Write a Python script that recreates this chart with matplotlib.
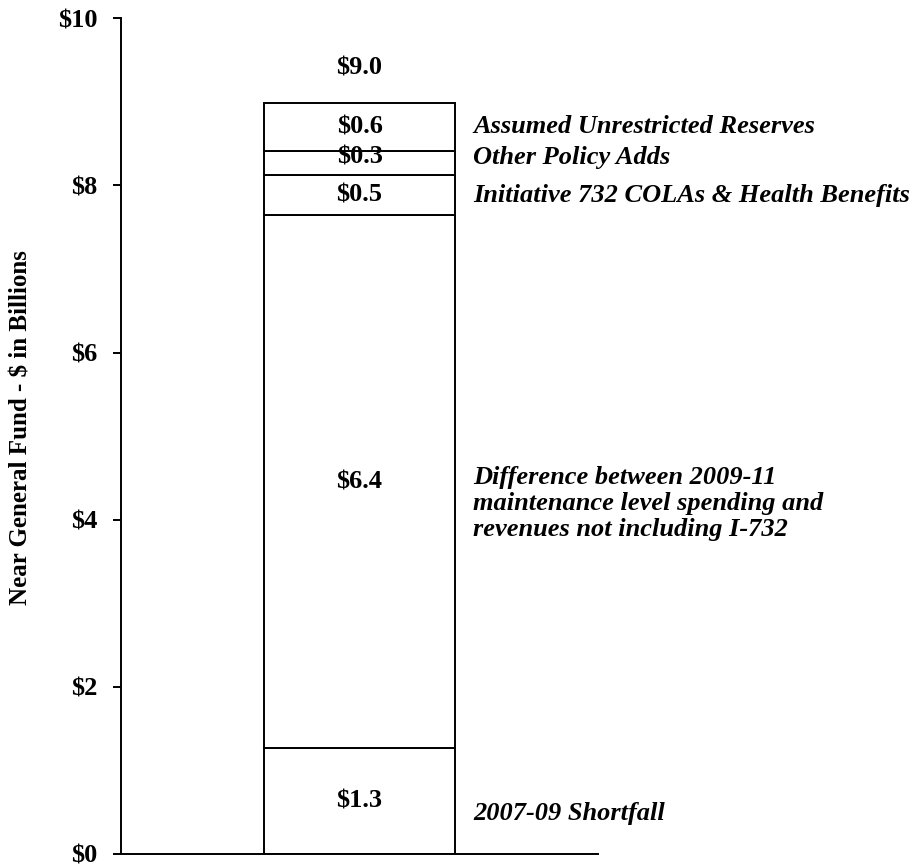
import matplotlib
matplotlib.use('Agg')
import matplotlib.pyplot as plt

# stacked segments, bottom to top ($ billions)
segments = ['2007-09 Shortfall',
            'Difference between 2009-11\nmaintenance level spending and\nrevenues not including I-732',
            'Initiative 732 COLAs & Health Benefits',
            'Other Policy Adds',
            'Assumed Unrestricted Reserves']
values = [1.27, 6.37, 0.48, 0.29, 0.58]
value_labels = ['$1.3', '$6.4', '$0.5', '$0.3', '$0.6']
total_label = '$9.0'
yticks = [0, 2, 4, 6, 8, 10]
ytick_labels = ['$0', '$2', '$4', '$6', '$8', '$10']

plt.rcParams['font.family'] = ['Liberation Serif', 'DejaVu Serif']

fig = plt.figure(figsize=(9.19, 8.67), dpi=100)
ax = fig.add_axes([0.1317, 0.015, 0.519, 0.964])

fs = 19
bar_w = 0.4
bottom = 0
for i, v in enumerate(values):
    ax.bar(0, v, width=bar_w, bottom=bottom, color='white',
           edgecolor='black', linewidth=1.4, zorder=2)
    mid = bottom + v / 2
    dy = 0
    if i == 0:
        label_y = mid - 0.15
    elif i == 1:
        label_y = mid - 0.26
    else:
        label_y = mid
    if i == 3:
        dy = 0.07
    ax.text(0, mid + dy, value_labels[i], ha='center', va='center',
            fontsize=fs, fontweight='bold', zorder=3)
    ax.text(0.238, label_y + dy, segments[i], ha='left', va='center',
            fontsize=fs, fontweight='bold', style='italic',
            linespacing=1.15)
    bottom += v

ax.text(0, bottom + 0.41, total_label, ha='center', va='center',
        fontsize=fs, fontweight='bold')

ax.set_xlim(-0.5, 0.5)
ax.set_ylim(0, 10)
ax.set_yticks(yticks)
ax.set_yticklabels(ytick_labels, fontsize=fs, fontweight='bold')
ax.set_xticks([])
ax.tick_params(axis='y', direction='out', length=6, width=1.4, pad=11)
for s in ['top', 'right']:
    ax.spines[s].set_visible(False)
for s in ['left', 'bottom']:
    ax.spines[s].set_linewidth(1.4)

ax.set_ylabel('Near General Fund - $ in Billions', fontsize=18,
              fontweight='bold')
ax.yaxis.set_label_coords(-0.185, 0.51)

fig.savefig('out.png', dpi=100)
